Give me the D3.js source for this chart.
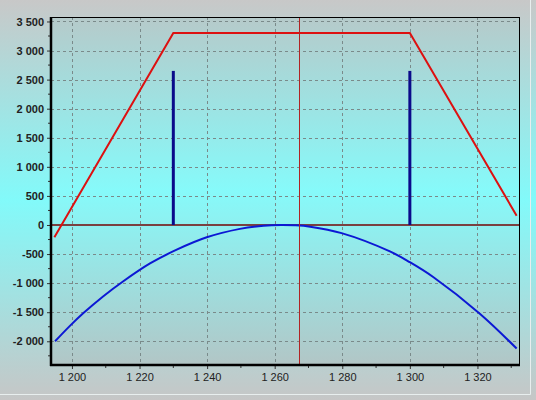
<!DOCTYPE html>
<html><head><meta charset="utf-8">
<script src="https://cdn.jsdelivr.net/npm/d3@7"></script>
<style>html,body{margin:0;padding:0;background:#c6c6c6;}svg{display:block;}</style>
</head><body>
<script>
// ---- data ----
const xTicks = [1200, 1220, 1240, 1260, 1280, 1300, 1320];
const yTicks = [-2000, -1500, -1000, -500, 0, 500, 1000, 1500, 2000, 2500, 3000, 3500];
const payoffX = [1194.8, 1230, 1300, 1331.6];
const payoffY = [-210, 3300, 3300, 160];
const strikeX = [1230, 1300];
const strikeH = [2650, 2650];
const curveX = [1195.0, 1199.4, 1203.4, 1209.3, 1215.2, 1223.1, 1231.0, 1239.9, 1249.7, 1256.7, 1262.0, 1266.0, 1270.5, 1279.8, 1294.1, 1300.0, 1306.9, 1320.8, 1331.6];
const curveY = [-2000, -1735, -1515, -1225, -968, -662, -425, -212, -67, -12, 0, -6, -30, -140, -455, -640, -895, -1530, -2125];
const spotX = 1267.3;

const W = 536, H = 400;
const m = {l: 51, t: 17, r: 519, b: 365};
const svg = d3.select("body").append("svg").attr("width", W).attr("height", H);
const defs = svg.append("defs");
const g1 = defs.append("linearGradient").attr("id", "bgOuter").attr("x1", 0).attr("y1", 0).attr("x2", 0).attr("y2", 1);
[[0, "#c8c8c8"], [0.5, "#82fafa"], [1, "#c6c6c6"]].forEach(s => g1.append("stop").attr("offset", s[0]).attr("stop-color", s[1]));
const g2 = defs.append("linearGradient").attr("id", "bgPlot").attr("x1", 0).attr("y1", 0).attr("x2", 0).attr("y2", 1);
[[0, "#b6caca"], [0.5, "#86fafa"], [1, "#b2c6c6"]].forEach(s => g2.append("stop").attr("offset", s[0]).attr("stop-color", s[1]));

svg.append("rect").attr("width", W).attr("height", H).attr("fill", "url(#bgOuter)");
// frame lines
svg.append("line").attr("x1", 530.5).attr("x2", 530.5).attr("y1", 0).attr("y2", 394.5).attr("stroke", "#e8eeee").attr("stroke-width", 1);
svg.append("line").attr("x1", 0).attr("x2", 530.5).attr("y1", 394.5).attr("y2", 394.5).attr("stroke", "#e8eeee").attr("stroke-width", 1);

const x = d3.scaleLinear().domain([1193.8, 1332.3]).range([m.l, m.r]);
const y = d3.scaleLinear().domain([-2408, 3577]).range([m.b, m.t]);

svg.append("rect").attr("x", m.l).attr("y", m.t).attr("width", m.r - m.l).attr("height", m.b - m.t).attr("fill", "url(#bgPlot)");

// grid
const grid = svg.append("g").attr("stroke", "#7a8a8a").attr("stroke-width", 1).attr("stroke-dasharray", "3,3");
grid.selectAll(".gx").data(xTicks).join("line")
  .attr("x1", d => Math.round(x(d)) + 0.5).attr("x2", d => Math.round(x(d)) + 0.5)
  .attr("y1", m.t).attr("y2", m.b);
grid.selectAll(".gy").data(yTicks).join("line")
  .attr("y1", d => Math.round(y(d)) + 0.5).attr("y2", d => Math.round(y(d)) + 0.5)
  .attr("x1", m.l).attr("x2", m.r);

// zero line
svg.append("line").attr("x1", m.l).attr("x2", m.r).attr("y1", y(0)).attr("y2", y(0)).attr("stroke", "#7a4040").attr("stroke-width", 2);

// blue curve
const line = d3.line().x(d => x(d[0])).y(d => y(d[1])).curve(d3.curveCatmullRom.alpha(0.5));
svg.append("path").datum(curveX.map((v, i) => [v, curveY[i]])).attr("d", line)
  .attr("fill", "none").attr("stroke", "#0c18d4").attr("stroke-width", 2);

// red payoff
const line2 = d3.line().x(d => x(d[0])).y(d => y(d[1]));
svg.append("path").datum(payoffX.map((v, i) => [v, payoffY[i]])).attr("d", line2)
  .attr("fill", "none").attr("stroke", "#dd1010").attr("stroke-width", 2);

// strike bars
svg.selectAll(".bar").data(strikeX).join("line")
  .attr("x1", d => x(d)).attr("x2", d => x(d))
  .attr("y1", y(0)).attr("y2", (d, i) => y(strikeH[i]))
  .attr("stroke", "#0a0a8a").attr("stroke-width", 3);

// spot line
svg.append("line").attr("x1", Math.round(x(spotX)) + 0.5).attr("x2", Math.round(x(spotX)) + 0.5)
  .attr("y1", m.t).attr("y2", m.b).attr("stroke", "#b02424").attr("stroke-width", 1);

// border
svg.append("rect").attr("x", m.l + 0.5).attr("y", m.t + 0.5).attr("width", m.r - m.l).attr("height", m.b - m.t)
  .attr("fill", "none").attr("stroke", "#000").attr("stroke-width", 1);

// axes
const xAxis = d3.axisBottom(x).tickValues(xTicks).tickSize(4).tickFormat(d => d3.format(",")(d).replace(/,/g, " "));
const gx = svg.append("g").attr("transform", `translate(0,${m.b})`).call(xAxis);
const yAxis = d3.axisLeft(y).tickValues(yTicks).tickSize(4).tickFormat(d => d3.format(",")(d).replace(/,/g, " ").replace("−", "-"));
const gy = svg.append("g").attr("transform", `translate(${m.l},0)`).call(yAxis);
// minor ticks
const xMinor = xTicks.map(d => d + 10).filter(d => d < 1332);
svg.append("g").selectAll("line").data(xMinor).join("line")
  .attr("x1", d => x(d)).attr("x2", d => x(d)).attr("y1", m.b).attr("y2", m.b + 3).attr("stroke", "#333");
const yMinor = yTicks.map(d => d - 250).filter(d => d > -2408);
svg.append("g").selectAll("line").data(yMinor).join("line")
  .attr("y1", d => y(d)).attr("y2", d => y(d)).attr("x1", m.l).attr("x2", m.l - 3).attr("stroke", "#333");

[gx, gy].forEach(g => {
  g.select(".domain").remove();
  g.selectAll(".tick line").attr("stroke", "#333");
  g.selectAll("text").attr("fill", "#222").attr("font-family", "'Liberation Sans', Arial, sans-serif").attr("font-size", 11);
});
gy.selectAll("text").attr("font-weight", "bold").attr("x", -7);
gx.selectAll("text").attr("y", 8);

svg.append("line").attr("x1", m.l).attr("x2", m.l).attr("y1", m.t).attr("y2", m.b + 1).attr("stroke", "#000").attr("stroke-width", 2.5);
svg.append("line").attr("x1", m.l - 1).attr("x2", m.r + 1).attr("y1", m.b).attr("y2", m.b).attr("stroke", "#000").attr("stroke-width", 2.5);
</script>
</body></html>
